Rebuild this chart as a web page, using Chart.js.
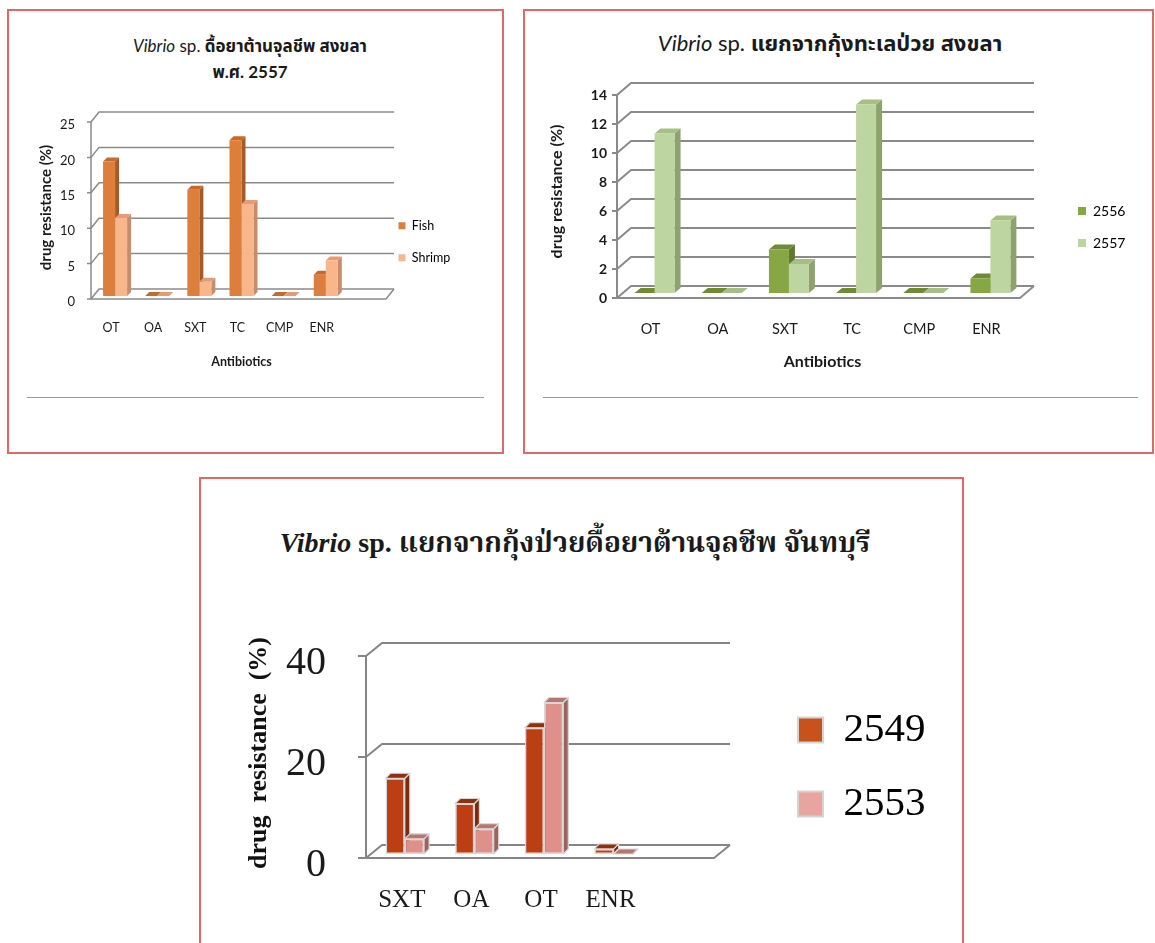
<!DOCTYPE html>
<html>
<head>
<meta charset="utf-8">
<script src="https://cdn.jsdelivr.net/npm/chart.js@4.4.1/dist/chart.umd.min.js"></script>
<style>
  html, body { margin: 0; padding: 0; background: #fff; }
  body { width: 1155px; height: 943px; position: relative; overflow: hidden; }
  .panel { position: absolute; border: 2px solid #e26767; box-sizing: border-box; }
  .title { position: absolute; text-align: center; white-space: nowrap; color: #1a1a1a; }
  .sans { font-family: Lato, "Noto Sans Thai", "Noto Sans", sans-serif; }
  .serif { font-family: "Liberation Serif", "Noto Serif Thai", "Noto Sans Thai", serif; }
  .rule { position: absolute; height: 0; border-top: 1px solid #9a9a9a; }
  canvas { position: absolute; }
</style>
</head>
<body>

<div class="panel" style="left:7px;top:9px;width:497px;height:445px"></div>
<div class="panel" style="left:523px;top:9px;width:631px;height:445px"></div>
<div class="panel" style="left:199px;top:477px;width:765px;height:500px"></div>

<div class="title sans" style="left:20px;width:460px;top:33px;font-size:17px;line-height:26px">
  <span style="font-style:italic">Vibrio</span> sp. <b>ดื้อยาต้านจุลชีพ สงขลา</b><br><b>พ.ศ. 2557</b>
</div>
<div class="title sans" style="left:530px;width:600px;top:29px;font-size:22px;line-height:28px">
  <span style="font-style:italic">Vibrio</span> sp. <b>แยกจากกุ้งทะเลป่วย สงขลา</b>
</div>
<div class="title serif" style="left:230px;width:690px;top:525px;font-size:28px;line-height:36px;font-weight:bold">
  <i>Vibrio</i> sp. แยกจากกุ้งป่วยดื้อยาต้านจุลชีพ จันทบุรี
</div>

<div class="rule" style="left:27px;top:397px;width:457px"></div>
<div class="rule" style="left:543px;top:397px;width:595px"></div>

<canvas id="fishShrimp" width="485" height="296" style="left:10px;top:89px;width:485px;height:296px"></canvas>
<canvas id="songkhla" width="615" height="316" style="left:530px;top:64px;width:615px;height:316px"></canvas>
<canvas id="chanthaburi" width="750" height="353" style="left:210px;top:582px;width:750px;height:353px"></canvas>

<script>
// ---- Songkhla 2557: fish vs shrimp isolates ----
const drugsA = ['OT', 'OA', 'SXT', 'TC', 'CMP', 'ENR'];
const fish2557 = [19, 0, 15, 22, 0, 3];
const shrimp2557 = [11, 0, 2, 13, 0, 5];
const ticksA = [0, 5, 10, 15, 20, 25];

// ---- Songkhla diseased sea shrimp: 2556 vs 2557 ----
const drugsB = ['OT', 'OA', 'SXT', 'TC', 'CMP', 'ENR'];
const year2556 = [0, 0, 3, 0, 0, 1];
const year2557 = [11, 0, 2, 13, 0, 5];
const ticksB = [0, 2, 4, 6, 8, 10, 12, 14];

// ---- Chanthaburi diseased shrimp: 2549 vs 2553 ----
const drugsC = ['SXT', 'OA', 'OT', 'ENR'];
const year2549 = [15, 10, 25, 1];
const year2553 = [3, 5, 30, 0];
const ticksC = [0, 20, 40];

// Draws the 3D box (back wall grid, floor, front axis) and the
// side/top faces of every bar; the bar fronts come from Chart.js itself.
function frame3d(o) {
  return {
    id: 'frame3d',
    beforeDatasetsDraw(chart) {
      const { ctx, chartArea: a, scales } = chart;
      const y = scales.y;
      const fl = a.left - o.ox, fr = a.right - o.ox;
      ctx.save();
      ctx.strokeStyle = o.grid;
      ctx.lineWidth = o.gridWidth;
      ctx.lineJoin = 'round';
      y.ticks.forEach(t => {
        const py = y.getPixelForValue(t.value) + o.oy;
        ctx.beginPath();
        ctx.moveTo(fl - o.tick, py);
        ctx.lineTo(fl, py);
        ctx.lineTo(fl + o.dx, py - o.dy);
        ctx.lineTo(fr + o.dx, py - o.dy);
        ctx.stroke();
      });
      const y0 = y.getPixelForValue(y.min) + o.oy;
      const yt = y.getPixelForValue(y.max) + o.oy;
      ctx.beginPath();
      ctx.moveTo(fl, yt);
      ctx.lineTo(fl, y0);
      ctx.lineTo(fr, y0);
      ctx.lineTo(fr + o.dx, y0 - o.dy);
      ctx.stroke();

      const poly = (pts, fill) => {
        ctx.beginPath();
        ctx.moveTo(pts[0][0], pts[0][1]);
        for (let i = 1; i < pts.length; i++) ctx.lineTo(pts[i][0], pts[i][1]);
        ctx.closePath();
        ctx.fillStyle = fill;
        ctx.fill();
        if (o.edge) { ctx.strokeStyle = o.edge; ctx.lineWidth = o.edgeWidth; ctx.stroke(); }
      };
      const bx = o.bdx, by = o.bdy;
      chart.data.datasets.forEach((ds, i) => {
        chart.getDatasetMeta(i).data.forEach(bar => {
          const p = bar.getProps(['x', 'y', 'base', 'width'], true);
          const l = p.x - p.width / 2, r = p.x + p.width / 2;
          poly([[r, p.y], [r + bx, p.y - by], [r + bx, p.base - by], [r, p.base]], ds.sideColor);
          poly([[l, p.y], [r, p.y], [r + bx, p.y - by], [l + bx, p.y - by]], ds.topColor);
        });
      });
      ctx.restore();
    }
  };
}

// Places the legend block at a fixed spot inside the canvas.
function legendAt(left, top) {
  return {
    id: 'legendAt',
    afterLayout(chart) {
      const lg = chart.legend;
      if (!lg) return;
      lg.left = left;
      lg.top = top;
      lg.right = left + lg.width;
      lg.bottom = top + 400;
    }
  };
}

function legendLabels(chart) {
  return chart.data.datasets.map((ds, i) => ({
    text: ds.label,
    fillStyle: ds.legendColor || ds.backgroundColor,
    strokeStyle: ds.legendEdge || 'rgba(0,0,0,0)',
    lineWidth: ds.legendEdge ? 2 : 0,
    hidden: false,
    datasetIndex: i
  }));
}

function barChart(id, spec) {
  const t = spec.ticks;
  return new Chart(document.getElementById(id), {
    type: 'bar',
    data: {
      labels: spec.labels,
      datasets: spec.datasets
    },
    options: {
      responsive: false,
      animation: false,
      events: [],
      layout: { padding: spec.padding },
      datasets: {
        bar: {
          categoryPercentage: spec.catPct,
          barPercentage: 1,
          borderSkipped: false
        }
      },
      plugins: {
        tooltip: { enabled: false },
        legend: {
          position: 'chartArea',
          align: 'start',
          labels: {
            font: spec.legendFont,
            color: '#1a1a1a',
            boxWidth: spec.legendBox,
            boxHeight: spec.legendBox,
            padding: spec.legendPad,
            generateLabels: legendLabels
          }
        }
      },
      scales: {
        x: {
          grid: { display: false, drawTicks: false },
          border: { display: false },
          ticks: {
            font: spec.xFont,
            color: '#1a1a1a',
            padding: spec.xPad,
            labelOffset: spec.xShift,
            autoSkip: false,
            maxRotation: 0
          },
          title: spec.xTitle,
          afterFit(s) { s.height = spec.xHeight; }
        },
        y: {
          min: t[0],
          max: t[t.length - 1],
          grid: { display: false, drawTicks: false },
          border: { display: false },
          ticks: {
            stepSize: t[1] - t[0],
            font: spec.yFont,
            color: '#1a1a1a',
            padding: spec.yPad,
            labelOffset: spec.yShift
          },
          title: spec.yTitle,
          afterFit(s) { s.width = spec.yWidth; }
        }
      }
    },
    plugins: [frame3d(spec.frame), legendAt(spec.legendLeft, spec.legendTop)]
  });
}

const sans = 'Lato, "Noto Sans Thai", sans-serif';
const serif = '"Liberation Serif", "Noto Serif Thai", serif';

barChart('fishShrimp', {
  labels: [...drugsA, ''],
  ticks: ticksA,
  datasets: [
    { label: 'Fish', data: fish2557, backgroundColor: '#de7e3b', sideColor: '#a95a24', topColor: '#c46a2c', borderWidth: 0 },
    { label: 'Shrimp', data: shrimp2557, backgroundColor: '#f9b68a', sideColor: '#c88c6b', topColor: '#e39d74', borderWidth: 0 }
  ],
  padding: { left: 27, right: 106, top: 30, bottom: 15.5 },
  catPct: 0.57,
  yWidth: 57, xHeight: 73.5,
  yPad: 19, yShift: 6, xPad: 24.75, xShift: -4,
  xFont: { family: sans, size: 12.5 },
  yFont: { family: sans, size: 13 },
  xTitle: { display: true, text: 'Antibiotics', color: '#1a1a1a', font: { family: sans, size: 12.5, weight: 'bold' }, padding: 0 },
  yTitle: { display: true, text: 'drug resistance (%)', color: '#1a1a1a', font: { family: sans, size: 15, weight: 'bold' }, padding: 0 },
  legendFont: { family: sans, size: 12.5 },
  legendBox: 7, legendPad: 19.5, legendLeft: 369, legendTop: 111,
  frame: { ox: 3, oy: 3, dx: 8, dy: 10, tick: 4, bdx: 4, bdy: 4, grid: '#8a8a8a', gridWidth: 1.5 }
});

barChart('songkhla', {
  labels: drugsB,
  ticks: ticksB,
  datasets: [
    { label: '2556', data: year2556, backgroundColor: '#87a646', sideColor: '#5f7a2e', topColor: '#6f8b37', borderWidth: 0 },
    { label: '2557', data: year2557, backgroundColor: '#bdd5a0', sideColor: '#8da26c', topColor: '#a6bf84', borderWidth: 0 }
  ],
  padding: { left: 17.4, right: 121, top: 26, bottom: 8.4 },
  catPct: 0.595,
  yWidth: 73.6, xHeight: 78.6,
  yPad: 14, yShift: 5, xPad: 27.7, xShift: -4,
  xFont: { family: sans, size: 14.5 },
  yFont: { family: sans, size: 14, weight: 'bold' },
  xTitle: { display: true, text: 'Antibiotics', color: '#1a1a1a', font: { family: sans, size: 16, weight: 'bold' }, padding: 0 },
  yTitle: { display: true, text: 'drug resistance (%)', color: '#1a1a1a', font: { family: sans, size: 16, weight: 'bold' }, padding: 0 },
  legendFont: { family: sans, size: 14 },
  legendBox: 8, legendPad: 18, legendLeft: 530, legendTop: 122,
  frame: { ox: 4, oy: 5, dx: 14, dy: 12, tick: 5, bdx: 6, bdy: 5, grid: '#8a8a8a', gridWidth: 2 }
});

barChart('chanthaburi', {
  labels: [...drugsC, ''],
  ticks: ticksC,
  datasets: [
    { label: '2549', data: year2549, backgroundColor: '#bc3f14', sideColor: '#7d2a0c', topColor: '#8f310f', borderColor: '#d8d8d8', borderWidth: 1.5, legendColor: '#c9521b', legendEdge: '#d4d4d4' },
    { label: '2553', data: year2553, backgroundColor: '#e0908a', sideColor: '#9d625e', topColor: '#b67771', borderColor: '#d8d8d8', borderWidth: 1.5, legendColor: '#e8a49e', legendEdge: '#d4d4d4' }
  ],
  padding: { left: 34, right: 242, top: 70, bottom: 11 },
  catPct: 0.554,
  yWidth: 126, xHeight: 70,
  yPad: 44, yShift: 11, xPad: 31, xShift: -3,
  xFont: { family: serif, size: 25 },
  yFont: { family: serif, size: 40 },
  xTitle: { display: false },
  yTitle: { display: true, text: 'drug  resistance  (%)', color: '#111', font: { family: serif, size: 26, weight: 'bold' }, padding: 0 },
  legendFont: { family: serif, size: 41 },
  legendBox: 25, legendPad: 33, legendLeft: 555, legendTop: 94.5,
  frame: { ox: 4, oy: 4, dx: 16, dy: 13, tick: 8, bdx: 5, bdy: 5, grid: '#858585', gridWidth: 2, edge: '#d8d8d8', edgeWidth: 1.2 }
});
</script>
</body>
</html>
